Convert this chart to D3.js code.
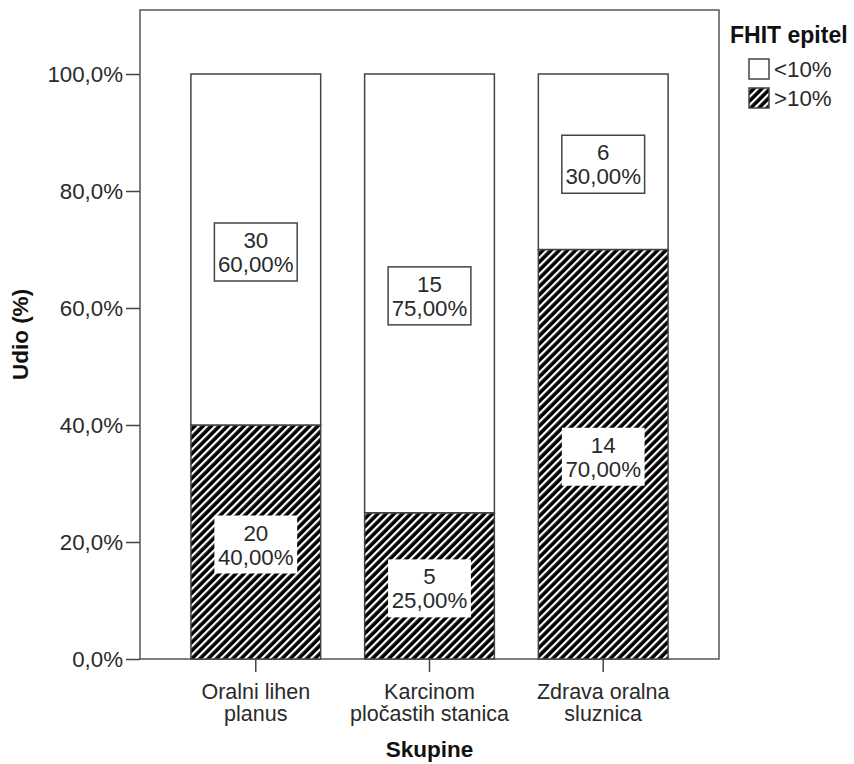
<!DOCTYPE html>
<html><head><meta charset="utf-8">
<script src="https://cdn.jsdelivr.net/npm/d3@7"></script>
<style>body{margin:0;background:#fff;} svg{display:block;}</style>
</head><body>
<svg id="chart" width="854" height="764"></svg>
<script>
const categories = ["Oralni lihen planus", "Karcinom pločastih stanica", "Zdrava oralna sluznica"];
const categoryLines = [["Oralni lihen", "planus"], ["Karcinom", "pločastih stanica"], ["Zdrava oralna", "sluznica"]];
const seriesNames = [">10%", "<10%"];
const countsHigh = [20, 5, 14];
const countsLow = [30, 15, 6];
const pctHigh = [40, 25, 70];
const pctLow = [60, 75, 30];
const yTicks = [0, 20, 40, 60, 80, 100];
const yTickLabels = ["0,0%", "20,0%", "40,0%", "60,0%", "80,0%", "100,0%"];
const pctLabels = v => v.toFixed(2).replace(".", ",") + "%";

const svg = d3.select("#chart");
const FONT = "'Liberation Sans', Arial, sans-serif";
const FS = 22.3;
const frame = {x0: 140, x1: 719, y0: 10, y1: 659};

const defs = svg.append("defs");
const pat = defs.append("pattern").attr("id", "hatch")
  .attr("patternUnits", "userSpaceOnUse").attr("width", 5.8).attr("height", 10)
  .attr("patternTransform", "rotate(45)");
pat.append("rect").attr("width", 5.8).attr("height", 10).attr("fill", "#000");
pat.append("rect").attr("x", 0).attr("width", 2.2).attr("height", 10).attr("fill", "#fff");

const x = d3.scaleBand().domain(categories).range([frame.x0, frame.x1])
  .paddingInner(0.253).paddingOuter(0.293);
const y = d3.scaleLinear().domain([0, 100]).range([659, 74]);

// frame
svg.append("rect").attr("x", frame.x0).attr("y", frame.y0)
  .attr("width", frame.x1 - frame.x0).attr("height", frame.y1 - frame.y0)
  .attr("fill", "none").attr("stroke", "#555").attr("stroke-width", 1.5);

// stacked data
const rows = categories.map((c, i) => ({cat: c, high: pctHigh[i], low: pctLow[i], nHigh: countsHigh[i], nLow: countsLow[i]}));
const stack = d3.stack().keys(["high", "low"])(rows);

const g = svg.append("g");
stack.forEach(layer => {
  g.selectAll(null).data(layer).join("rect")
    .attr("x", d => x(d.data.cat))
    .attr("y", d => y(d[1]))
    .attr("width", x.bandwidth())
    .attr("height", d => y(d[0]) - y(d[1]))
    .attr("fill", layer.key === "high" ? "url(#hatch)" : "#fff")
    .attr("stroke", "#444").attr("stroke-width", 1.5);
});

// labels
stack.forEach(layer => {
  layer.forEach(d => {
    const cx = x(d.data.cat) + x.bandwidth() / 2;
    const cy = y((d[0] + d[1]) / 2) + 2.5;
    const n = layer.key === "high" ? d.data.nHigh : d.data.nLow;
    const p = layer.key === "high" ? d.data.high : d.data.low;
    const lg = g.append("g");
    const t = lg.append("text").attr("font-family", FONT).attr("font-size", FS)
      .attr("fill", "#2a2a2a").attr("text-anchor", "middle");
    t.append("tspan").attr("x", cx).attr("y", cy - 4).text(n);
    t.append("tspan").attr("x", cx).attr("y", cy + 20).text(pctLabels(p));
    const w = t.node().getBBox().width + 7;
    lg.insert("rect", "text").attr("x", cx - w / 2).attr("y", cy - 29)
      .attr("width", w).attr("height", 58).attr("fill", "#fff")
      .attr("stroke", layer.key === "high" ? "none" : "#444").attr("stroke-width", 1.5);
  });
});

// y axis
const yAxis = d3.axisLeft(y).tickValues(yTicks).tickSize(14).tickPadding(3)
  .tickFormat((d, i) => yTickLabels[i]);
const ya = svg.append("g").attr("transform", `translate(${frame.x0},0)`).call(yAxis);
ya.select(".domain").remove();
ya.selectAll("line").attr("stroke", "#444").attr("stroke-width", 1.5);
ya.selectAll("text").attr("font-family", FONT).attr("font-size", FS).attr("fill", "#2a2a2a");

// x axis
const xAxis = d3.axisBottom(x).tickSize(13).tickFormat("");
const xa = svg.append("g").attr("transform", `translate(0,${frame.y1})`).call(xAxis);
xa.select(".domain").remove();
xa.selectAll("line").attr("stroke", "#444").attr("stroke-width", 1.5);
categories.forEach((c, i) => {
  const t = svg.append("text").attr("font-family", FONT).attr("font-size", 21.5)
    .attr("fill", "#2a2a2a").attr("text-anchor", "middle");
  categoryLines[i].forEach((ln, j) => {
    t.append("tspan").attr("x", x(c) + x.bandwidth() / 2).attr("y", 698.5 + j * 22.5).text(ln);
  });
});

// axis titles
svg.append("text").attr("x", (frame.x0 + frame.x1) / 2).attr("y", 757)
  .attr("text-anchor", "middle").attr("font-family", FONT).attr("font-size", 22.5)
  .attr("font-weight", "bold").attr("fill", "#111").text("Skupine");
svg.append("text").attr("transform", `translate(28,${(frame.y0 + frame.y1) / 2}) rotate(-90)`)
  .attr("text-anchor", "middle").attr("font-family", FONT).attr("font-size", 22.5)
  .attr("font-weight", "bold").attr("fill", "#111").text("Udio (%)");

// legend
svg.append("text").attr("x", 730).attr("y", 43).attr("font-family", FONT)
  .attr("font-size", 23).attr("font-weight", "bold").attr("fill", "#111").text("FHIT epitel");
const legendItems = [{name: seriesNames[1], fill: "#fff"}, {name: seriesNames[0], fill: "url(#hatch)"}];
legendItems.forEach((it, i) => {
  const yy = 59 + i * 29;
  svg.append("rect").attr("x", 749).attr("y", yy).attr("width", 20).attr("height", 20)
    .attr("fill", it.fill).attr("stroke", "#444").attr("stroke-width", 1.5);
  svg.append("text").attr("x", 774).attr("y", yy + 10).attr("dy", "0.35em")
    .attr("font-family", FONT).attr("font-size", FS).attr("fill", "#2a2a2a").text(it.name);
});
</script>
</body></html>
